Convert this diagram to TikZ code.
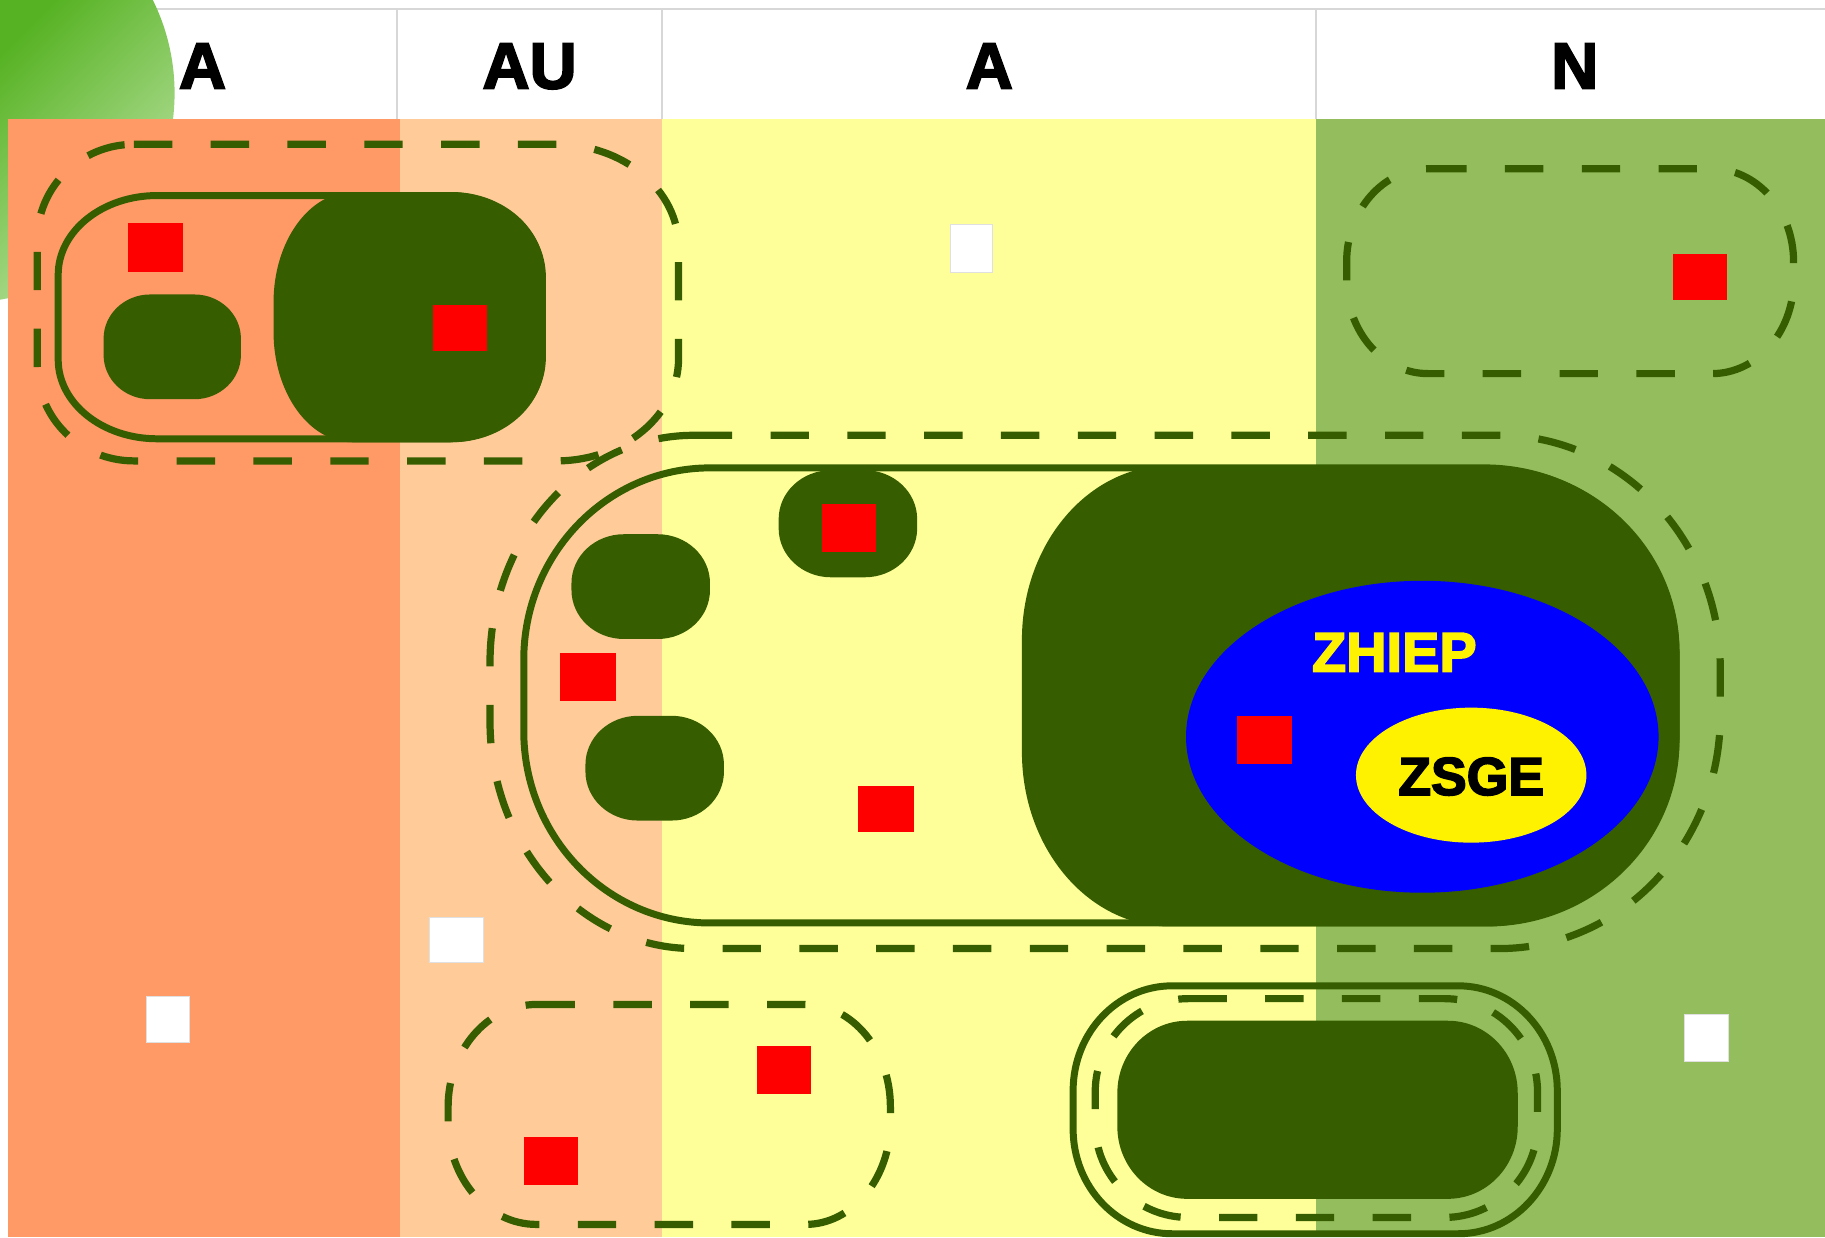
\documentclass[tikz,border=0pt]{standalone}
\usepackage{fontspec}
\setmainfont{Liberation Sans}[BoldFeatures={FakeBold=3}]
\definecolor{colA}{RGB}{255,153,102}
\definecolor{colAU}{RGB}{255,204,153}
\definecolor{colY}{RGB}{255,255,153}
\definecolor{colN}{RGB}{148,189,94}
\definecolor{dkg}{RGB}{54,94,0}
\definecolor{hdrline}{RGB}{215,215,215}
\definecolor{circD}{RGB}{86,178,34}
\definecolor{circL}{RGB}{195,230,172}
\tikzset{
  erect/.style n args={8}{insert path={({#1+#5},#2) -- ({#3-#7},#2)
     arc[start angle=-90,end angle=0,x radius=#7,y radius=#8] -- (#3,{#4-#8})
     arc[start angle=0,end angle=90,x radius=#7,y radius=#8] -- ({#1+#5},#4)
     arc[start angle=90,end angle=180,x radius=#5,y radius=#6] -- (#1,{#2+#6})
     arc[start angle=180,end angle=270,x radius=#5,y radius=#6] -- cycle}},
  dashloop/.style={draw=dkg,line width=3.1pt,dash pattern=on 16.5pt off 16.5pt},
  solidloop/.style={draw=dkg,line width=3pt},
  darkfill/.style={fill=dkg},
  redsq/.style={fill=red},
  whitesq/.style={fill=white,draw=black!12,line width=0.4pt},
  hdr/.style={font=\fontsize{28}{32}\selectfont\bfseries, anchor=base, inner sep=0pt},
  lbl/.style={font=\fontsize{24}{28}\selectfont\bfseries, anchor=base, inner sep=0pt},
}
\begin{document}
\begin{tikzpicture}[x=0.5pt,y=-0.5pt]
\useasboundingbox (0,0) rectangle (1568,1063);
\fill[white] (0,0) rectangle (1568,1063);
% header grid
\draw[hdrline,line width=0.8pt] (7,8) -- (1568,8);
\foreach \xx in {7,341,569,1131} \draw[hdrline,line width=0.8pt] (\xx,8) -- (\xx,102);
% green circle
\begin{scope}
\clip (-30,80) circle[radius=180];
\shade[top color=circD,bottom color=circL,shading angle=45] (-10,-10) rectangle (155,265);
\end{scope}
% columns
\fill[colA] (7,102) rectangle (344,1063);
\fill[colAU] (344,102) rectangle (569,1063);
\fill[colY] (569,102) rectangle (1131,1063);
\fill[colN] (1131,102) rectangle (1568,1063);
% header labels
\node[hdr] (h1) at (174,76) {A};
\node[hdr] (h2) at (455,76) {AU};
\node[hdr] (h3) at (850,76) {A};
\node[hdr] (h4) at (1353,76) {N};
% top-left group
\path[solidloop] [erect={50}{168}{466}{377}{85}{68}{80}{70}];
\path[darkfill] [erect={235}{165}{468}{380}{68}{95}{80}{70}];
\path[darkfill] [erect={89}{253}{207}{343}{40}{38}{40}{38}];
\path[dashloop] [erect={32}{124}{583}{396}{83}{82}{105}{88}];
\fill[redsq] (110,192) rectangle (157,234);
\fill[redsq] (372,262) rectangle (418,302);
% top white square
\path[whitesq] (817,193) rectangle (853,234);
% top-right group
\path[dashloop] [erect={1157}{145}{1541}{321}{70}{80}{70}{80}];
\fill[redsq] (1437,218) rectangle (1484,258);
% middle group
\path[solidloop] [erect={450}{402}{1440}{793}{160}{165}{165}{160}];
\path[darkfill] [erect={878}{400}{1443}{796}{127}{150}{165}{160}];
\fill[blue] (1222,633) ellipse[x radius=203, y radius=134];
\fill[yellow] (1264,666) ellipse[x radius=99, y radius=58];
\node[lbl,text=yellow] (zhiep) at (1198,577) {ZHIEP};
\node[lbl,text=black,font=\fontsize{23}{27}\selectfont\bfseries] (zsge) at (1264,683) {ZSGE};
\fill[redsq] (1063,615) rectangle (1110,656);
\path[darkfill] [erect={669}{404}{788}{496}{45}{42}{45}{42}];
\path[darkfill] [erect={491}{459}{610}{549}{45}{42}{45}{42}];
\path[darkfill] [erect={503}{615}{622}{705}{45}{42}{45}{42}];
\path[dashloop] [erect={421}{374}{1478}{815}{175}{195}{190}{200}];
\fill[redsq] (706,433) rectangle (753,474);
\fill[redsq] (481,561) rectangle (529,602);
\fill[redsq] (737,675) rectangle (785,715);
% white squares
\path[whitesq] (369,788) rectangle (415,827);
\path[whitesq] (126,856) rectangle (163,896);
\path[whitesq] (1447,872) rectangle (1485,912);
% bottom-left group
\path[dashloop] [erect={385}{863}{765}{1052}{76}{88}{73}{88}];
\fill[redsq] (650,899) rectangle (697,940);
\fill[redsq] (450,977) rectangle (497,1018);
% bottom-right group
\path[solidloop] [erect={922}{847}{1338}{1060}{85}{90}{85}{90}];
\path[dashloop] [erect={941}{858}{1321}{1046}{80}{80}{80}{80}];
\path[darkfill] [erect={960}{877}{1304}{1030}{60}{62}{60}{62}];
\end{tikzpicture}
\end{document}
